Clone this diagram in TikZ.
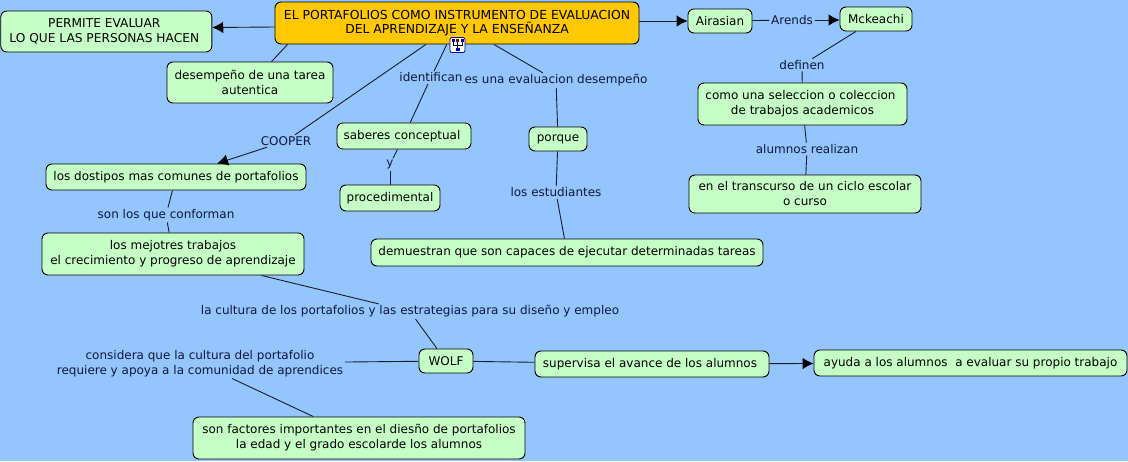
\documentclass[tikz,border=0pt]{standalone}
\usepackage{fontspec}
\setmainfont{DejaVu Sans}
\usetikzlibrary{arrows.meta}
\definecolor{mapblue}{HTML}{94C5FF}
\definecolor{mapgreen}{HTML}{C6FFC6}
\definecolor{mapgold}{HTML}{FFC800}
\definecolor{mapink}{HTML}{10183A}
\tikzset{
  concept/.style={draw=black,line width=0.9pt,fill=mapgreen,rounded corners=6pt,inner sep=0pt,align=center,font=\fontsize{12}{15}\selectfont},
  linklabel/.style={text=mapink,inner sep=1.5pt,align=center,font=\fontsize{12}{15}\selectfont},
  link/.style={line width=0.9pt,draw=black!85!mapblue},
  tip/.style={link,-{Latex[length=11pt,width=11.5pt,black]}}
}
\begin{document}
\begin{tikzpicture}[x=1pt,y=-1pt]
\path[use as bounding box,fill=mapblue] (0,0) rectangle (1128,461);
% concepts
\node[concept,fill=mapgold,minimum width=364pt,minimum height=42pt,font=\fontsize{12.4}{14.6}\selectfont] (main) at (457,23) {EL PORTAFOLIOS COMO INSTRUMENTO DE EVALUACION\\DEL APRENDIZAJE Y LA ENSEÑANZA};
\node[concept,minimum width=211pt,minimum height=41pt,font=\fontsize{12.2}{15}\selectfont] (permite) at (106.3,31.5) {PERMITE EVALUAR\hspace*{4pt}\\LO QUE LAS PERSONAS HACEN\hspace*{4pt}};
\node[concept,minimum width=166pt,minimum height=41pt] (tarea) at (250,82.5) {desempeño de una tarea\\autentica};
\node[concept,minimum width=64pt,minimum height=24pt] (airasian) at (720,21) {Airasian};
\node[concept,minimum width=72pt,minimum height=24pt] (mckeachi) at (876,19) {Mckeachi};
\node[concept,minimum width=209pt,minimum height=42pt] (seleccion) at (802.5,104) {como una seleccion o coleccion\hspace*{4pt}\\de trabajos academicos};
\node[concept,minimum width=232pt,minimum height=38pt] (ciclo) at (805,194) {en el transcurso de un ciclo escolar\\o curso};
\node[concept,minimum width=134pt,minimum height=26pt] (saberes) at (404,136) {saberes conceptual\hspace*{4pt}};
\node[concept,minimum width=100pt,minimum height=26pt] (procedimental) at (390,198) {procedimental};
\node[concept,minimum width=58pt,minimum height=24pt] (porque) at (558,139) {porque};
\node[concept,minimum width=392pt,minimum height=27pt] (tareas) at (567,252.5) {demuestran que son capaces de ejecutar determinadas tareas};
\node[concept,minimum width=260pt,minimum height=26pt] (dostipos) at (176,177) {los dostipos mas comunes de portafolios};
\node[concept,minimum width=262pt,minimum height=42pt] (mejores) at (173,254) {los mejotres trabajos\\el crecimiento y progreso de aprendizaje};
\node[concept,minimum width=54pt,minimum height=24pt] (wolf) at (446,361) {WOLF};
\node[concept,minimum width=332pt,minimum height=42pt] (factores) at (359,438) {son factores importantes en el diesño de portafolios\\la edad y el grado escolarde los alumnos};
\node[concept,minimum width=234pt,minimum height=26pt] (supervisa) at (652,364) {supervisa el avance de los alumnos\hspace*{4pt}};
\node[concept,minimum width=313pt,minimum height=26pt] (ayuda) at (970.5,363) {ayuda a los alumnos\ \ a evaluar su propio trabajo};
% labels
\node[linklabel] (arends) at (792,20) {Arends};
\node[linklabel] (definen) at (802,65) {definen};
\node[linklabel] (realizan) at (807,149) {alumnos realizan};
\node[linklabel] (cooper) at (286,141) {COOPER};
\node[linklabel] (identifican) at (431,77.5) {identifican};
\node[linklabel] (evaluacion) at (556,80.5) {es una evaluacion desempeño};
\node[linklabel] (ylabel) at (390,164.5) {y};
\node[linklabel] (estudiantes) at (556,192.5) {los estudiantes};
\node[linklabel] (conforman) at (166,215) {son los que conforman};
\node[linklabel] (cultura) at (410,311.5) {la cultura de los portafolios y las estrategias para su diseño y empleo};
\node[linklabel] (considera) at (200,363.5) {considera que la cultura del portafolio\\requiere y apoya a la comunidad de aprendices};
% connectors
\draw[tip] (main.west|-0,27) -- (permite.east|-0,27.5);
\draw[link] ([xshift=13pt]main.south west) -- ([xshift=105pt]tarea.north west);
\draw[tip] (main.east|-airasian) -- (airasian);
\draw[link] (airasian) -- (arends);
\draw[tip] (arends) -- (mckeachi.west|-arends);
\draw[link] (mckeachi) -- (definen);
\draw[link] (definen) -- (seleccion);
\draw[link] (seleccion) -- (realizan);
\draw[link] (realizan) -- (ciclo);
\draw[link] (main) -- (cooper);
\draw[tip] (cooper) -- (dostipos);
\draw[link] (main) -- (identifican);
\draw[link] (identifican) -- (saberes);
\draw[link] (saberes) -- (ylabel);
\draw[link] (ylabel) -- (procedimental);
\draw[link] (main) -- (evaluacion);
\draw[link] (evaluacion) -- (porque);
\draw[link] (porque) -- (estudiantes);
\draw[link] (estudiantes) -- (tareas);
\draw[link] (dostipos) -- (conforman);
\draw[link] (conforman) -- (mejores);
\draw[link] (mejores) -- (cultura);
\draw[link] (cultura) -- (wolf);
\draw[link] (wolf) -- (considera);
\draw[link] (considera) -- (factores);
\draw[link] (wolf) -- (supervisa);
\draw[tip] (supervisa) -- (ayuda);
% icon under the main box
\node[draw=blue!60!black,fill=white,rounded corners=2pt,line width=0.8pt,minimum size=15pt,inner sep=0pt] (icon) at (457.5,45) {};
\draw[line width=0.7pt,draw=black!80!blue] ([xshift=-4.5pt,yshift=3pt]icon.center) -- ([xshift=-4.5pt,yshift=-0.5pt]icon.center) -- ([xshift=4.5pt,yshift=-0.5pt]icon.center) -- ([xshift=4.5pt,yshift=3pt]icon.center) ([yshift=-4pt]icon.center) -- ([yshift=3pt]icon.center);
\fill[blue!70!black] ([xshift=-2pt,yshift=-6pt]icon.center) rectangle ([xshift=2pt,yshift=-3pt]icon.center);
\fill[blue!70!black] ([xshift=-6pt,yshift=3pt]icon.center) rectangle ([xshift=-3pt,yshift=6pt]icon.center);
\fill[red!60!black] ([xshift=-1.5pt,yshift=3pt]icon.center) rectangle ([xshift=1.5pt,yshift=6pt]icon.center);
\fill[blue!70!black] ([xshift=3pt,yshift=3pt]icon.center) rectangle ([xshift=6pt,yshift=6pt]icon.center);
\end{tikzpicture}
\end{document}
